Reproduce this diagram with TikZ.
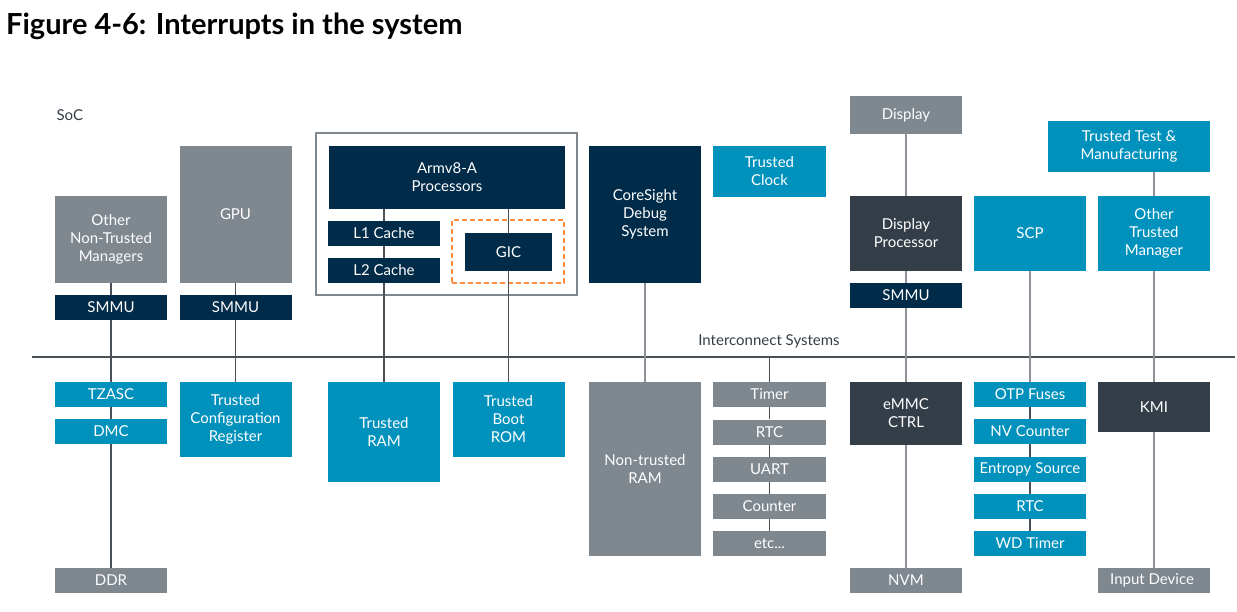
\documentclass[tikz,border=0pt]{standalone}
\usepackage{fontspec}
\setmainfont{Lato}
\definecolor{armgrey}{HTML}{7F878F}
\definecolor{armnavy}{HTML}{002B49}
\definecolor{armteal}{HTML}{0091BD}
\definecolor{armslate}{HTML}{333E48}
\definecolor{armorange}{HTML}{FF8A3D}
\definecolor{linkdark}{HTML}{4A5058}
\definecolor{linklight}{HTML}{8C9298}
\tikzset{block/.style={
  rectangle,
  text=white,align=center,
  inner sep=0pt,font=\fontsize{15}{18}\selectfont}}
\tikzset{link/.style={draw=linkdark,line width=1.4pt}}
\tikzset{lightlink/.style={draw=linklight,line width=1.4pt}}

\begin{document}
\begin{tikzpicture}[x={(1pt,0pt)},y={(0pt,-1pt)}]
  \useasboundingbox (0,0) rectangle (1237,611);
  \node[anchor=base west,inner sep=0pt,font=\fontsize{29}{33}\selectfont\bfseries,text=black] (title) at (6,34)
    {Figure 4-6: Interrupts in the system};
  \node[anchor=west,font=\fontsize{15}{18}\selectfont,text=armslate] (soc) at (53,115) {SoC};
  \node[font=\fontsize{15}{18}\selectfont,text=armslate] (icsys) at (769,341) {Interconnect Systems};
  % frames round the processor and the GIC
  \node[draw=armgrey,line width=1.2pt,minimum width=261pt,minimum height=162pt] (cpugrp) at (446.5,214) {};
  \node[draw=armorange,dash pattern=on 5pt off 3pt,line width=1.2pt,minimum width=112pt,minimum height=63pt] (gicgrp) at (508,251.5) {};
  % name/centre/width/height/colour/text
  \foreach \n/\p/\w/\h/\c/\l in {
      onm/{(111,239.5)}/112/87/armgrey/{Other\\Non-Trusted\\Managers},
      smmua/{(111,307.5)}/112/25/armnavy/SMMU,
      tzasc/{(111,394.5)}/112/25/armteal/TZASC,
      dmc/{(111,431.5)}/112/25/armteal/DMC,
      ddr/{(111,580.5)}/112/25/armgrey/DDR,
      gpu/{(235.5,214.5)}/112/137/armgrey/GPU,
      smmub/{(235.5,307.5)}/112/25/armnavy/SMMU,
      tcr/{(235.5,419.5)}/112/75/armteal/{Trusted\\Configuration\\Register},
      armv/{(447,177.5)}/236/63/armnavy/{Armv8-A\\Processors},
      lone/{(384,233.5)}/112/25/armnavy/L1 Cache,
      ltwo/{(384,270.5)}/112/25/armnavy/L2 Cache,
      gic/{(508.5,252)}/87/38/armnavy/GIC,
      tram/{(384,432)}/112/100/armteal/{Trusted\\RAM},
      tbrom/{(508.5,419.5)}/112/75/armteal/{Trusted\\Boot\\ROM},
      csight/{(645,214.5)}/112/137/armnavy/{CoreSight\\Debug\\System},
      ntram/{(645,469)}/112/174/armgrey/{Non-trusted\\RAM},
      tclk/{(769.5,171.5)}/113/51/armteal/{Trusted\\Clock},
      timer/{(769.5,394.5)}/113/25/armgrey/Timer,
      rtca/{(769.5,432)}/113/25/armgrey/RTC,
      uart/{(769.5,469.5)}/113/25/armgrey/UART,
      cntr/{(769.5,506.5)}/113/25/armgrey/Counter,
      etc/{(769.5,543.5)}/113/25/armgrey/{etc.{}.{}.},
      disp/{(906,115)}/112/38/armgrey/Display,
      dproc/{(906,233.5)}/112/75/armslate/{Display\\Processor},
      smmuc/{(906,295.5)}/112/25/armnavy/SMMU,
      emmc/{(906,413.5)}/112/63/armslate/{eMMC\\CTRL},
      nvm/{(906,580.5)}/112/25/armgrey/NVM,
      scp/{(1030,233.5)}/112/75/armteal/SCP,
      otp/{(1030,394.5)}/112/25/armteal/OTP Fuses,
      nvc/{(1030,431.5)}/112/25/armteal/NV Counter,
      entropy/{(1030,469.5)}/112/25/armteal/Entropy Source,
      rtcb/{(1030,506.5)}/112/25/armteal/RTC,
      wdt/{(1030,543.5)}/112/25/armteal/WD Timer,
      ttm/{(1129,146.5)}/162/51/armteal/{Trusted Test \&\\Manufacturing},
      otm/{(1154,233.5)}/112/75/armteal/{Other\\Trusted\\Manager},
      kmi/{(1154,407)}/112/50/armslate/KMI,
      indev/{(1154,580.5)}/112/25/armgrey/Input Device }
    \node[block,fill=\c,minimum width=\w pt,minimum height=\h pt] (\n) at \p {\l};
  % interconnect
  \coordinate (busw) at (32,357);
  \coordinate (buse) at (1235,357);
  \draw[link] (busw) -- (buse);
  \foreach \m/\n in {onm/smmua,smmua/tzasc,tzasc/dmc,dmc/ddr,gpu/smmub,smmub/tcr,
      lone/ltwo,ltwo/tram,gic/tbrom,timer/rtca,rtca/uart,uart/cntr,cntr/etc,
      otp/nvc,nvc/entropy,entropy/rtcb,rtcb/wdt}
    \draw[link] (\m) -- (\n);
  \foreach \m/\n in {csight/ntram,disp/dproc,dproc/smmuc,smmuc/emmc,emmc/nvm,
      scp/otp,otm/kmi,kmi/indev}
    \draw[lightlink] (\m) -- (\n);
  \foreach \m/\n in {lone/armv,gic/armv}
    \draw[link] (\n.south -| \m) -- (\m.north);
  \draw[lightlink] (ttm.south -| otm) -- (otm.north);
  \draw[link] (busw -| timer) -- (timer.north);
\end{tikzpicture}
\end{document}
